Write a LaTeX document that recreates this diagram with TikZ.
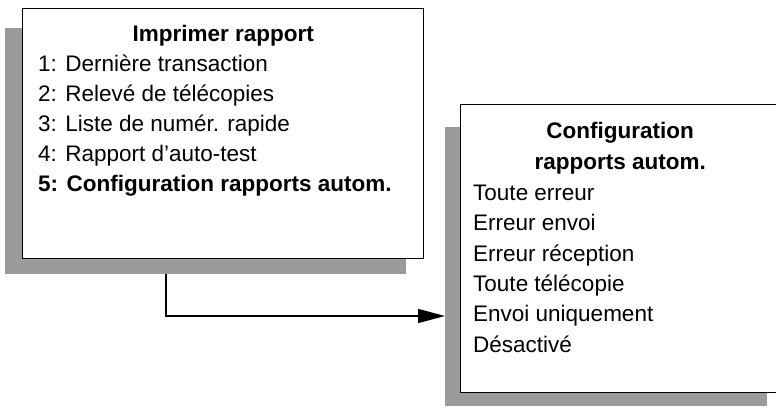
\documentclass[tikz,border=0pt]{standalone}
\usepackage{fontspec}
\setmainfont{Liberation Sans}
\usetikzlibrary{arrows.meta, positioning, calc}
\definecolor{shadowgray}{RGB}{155,155,155}

\begin{document}
\begin{tikzpicture}[
        x=1pt, y=1pt,
        box/.style={rectangle, draw=black, fill=white, line width=1.4pt, anchor=north west, inner sep=0pt},
        title/.style={anchor=base, font=\fontsize{22.5}{26}\selectfont\bfseries, inner sep=0pt},
        item/.style={anchor=base west, font=\fontsize{22.5}{26}\selectfont, inner sep=0pt}
    ]
        \useasboundingbox (0,0) rectangle (776,409);
        % boxes
        \fill[shadowgray] (5,135) rectangle (406,381);
        \node[box, minimum width=401pt, minimum height=250pt] (imprimer) at (22,401) {};
        \fill[shadowgray] (445,3) rectangle (767,282);
        \node[box, minimum width=319pt, minimum height=288pt] (config) at (460,305) {};

        % texts
        \node[title] (imprimertitle) at ($(imprimer.north)+(0,-34)$) {Imprimer rapport};
        \foreach \txt [count=\i] in {1: Dernière transaction, 2: Relevé de télécopies, 3: Liste de numér. rapide, 4: Rapport d'auto-test, \textbf{5: Configuration rapports autom.}}
            \node[item] (imprimer\i) at ($(imprimer.north west)+(16,-34-30*\i)$) {\txt};
        \node[title] (configtitlea) at ($(config.north)+(0,-35)$) {Configuration};
        \node[title] (configtitleb) at ($(config.north)+(0,-66)$) {rapports autom.};
        \foreach \txt [count=\i] in {Toute erreur, Erreur envoi, Erreur réception, Toute télécopie, Envoi uniquement, Désactivé}
            \node[item] (config\i) at ($(config.north west)+(13,-66-30.4*\i)$) {\txt};

        % connector
        \coordinate (start) at (166,135);
        \coordinate (end) at (445,93);
        \draw[-{Triangle[length=27pt, width=14pt]}, line width=1.4pt] (start) |- (end);
    \end{tikzpicture}
\end{document}
